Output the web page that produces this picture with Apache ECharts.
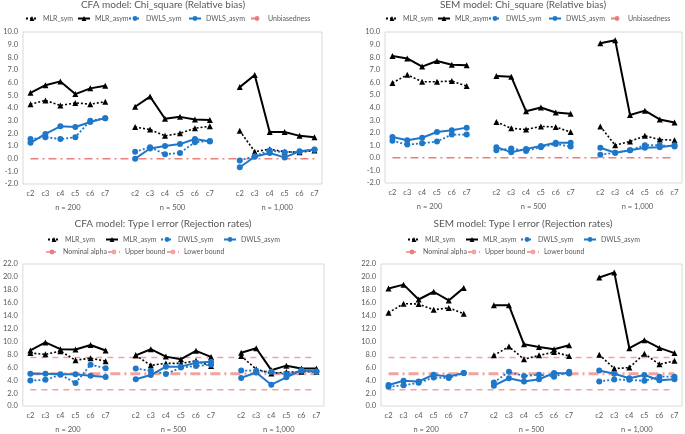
<!DOCTYPE html>
<html>
<head>
<meta charset="utf-8">
<script src="https://cdn.jsdelivr.net/npm/echarts@6/dist/echarts.min.js"></script>
<style>html,body{margin:0;padding:0;background:#fff;}#c{width:685px;height:434px;}</style>
</head>
<body>
<div id="c"></div>
<script>
// ---- Data ----
const categories = ['c2','c3','c4','c5','c6','c7'];
const groupLabels = ['n = 200','n = 500','n = 1,000'];
const panelTitles = ['CFA model: Chi_square (Relative bias)','SEM model: Chi_square (Relative bias)',
                     'CFA model: Type I error (Rejection rates)','SEM model: Type I error (Rejection rates)'];
const seriesNames = ['MLR_sym','MLR_asym','DWLS_sym','DWLS_asym'];
const refNamesBias = ['Unbiasedness'];
const refNamesRate = ['Nominal alpha','Upper bound','Lower bound'];

// CFA chi-square relative bias (n=200 | n=500 | n=1,000)
const cfaChiMLRsym   = [4.3,4.6,4.2,4.4,4.3,4.5,   2.5,2.3,1.8,2.0,2.4,2.55,  2.2,0.55,0.75,0.55,0.5,0.65];
const cfaChiMLRasym  = [5.2,5.8,6.1,5.1,5.55,5.75, 4.1,4.9,3.15,3.3,3.1,3.05, 5.65,6.6,2.1,2.1,1.8,1.7];
const cfaChiDWLSsym  = [1.55,1.7,1.55,1.7,3.0,3.2, 0.55,0.9,0.35,0.45,1.3,1.4, -0.15,0.2,0.65,0.5,0.55,0.7];
const cfaChiDWLSasym = [1.25,1.95,2.55,2.5,2.9,3.2, 0.0,0.8,1.0,1.15,1.55,1.35, -0.68,0.15,0.45,0.1,0.58,0.72];

// SEM chi-square relative bias
const semChiMLRsym   = [5.95,6.6,6.05,6.05,6.1,5.7, 2.85,2.35,2.25,2.5,2.45,2.05, 2.5,1.0,1.3,1.75,1.45,1.4];
const semChiMLRasym  = [8.1,7.9,7.25,7.7,7.4,7.35,  6.5,6.45,3.7,4.0,3.6,3.5,     9.1,9.35,3.4,3.75,3.05,2.8];
const semChiDWLSsym  = [1.35,1.05,1.15,1.3,1.85,1.85, 0.6,0.75,0.55,0.85,1.1,0.9, 0.25,0.4,0.6,1.0,1.0,0.9];
const semChiDWLSasym = [1.65,1.4,1.6,2.05,2.2,2.4,  0.85,0.45,0.7,0.95,1.2,1.2,   0.8,0.4,0.6,0.8,0.85,1.0];

// CFA Type I error rejection rates
const cfaT1MLRsym   = [8.2,8.0,8.5,7.1,7.4,6.95,  7.85,6.3,6.6,6.6,7.0,6.2,   7.75,5.7,5.05,5.25,5.3,5.3];
const cfaT1MLRasym  = [8.6,9.85,8.8,8.75,9.45,8.6, 7.85,8.8,7.65,7.25,8.55,7.6, 8.25,8.95,5.55,6.25,5.8,5.8];
const cfaT1DWLSsym  = [3.95,4.05,4.85,3.55,6.4,5.85, 5.8,5.45,4.95,5.95,6.2,6.4, 5.5,5.45,5.3,4.9,5.45,5.3];
const cfaT1DWLSasym = [5.0,5.0,4.9,4.9,4.7,4.5,   4.15,4.8,6.1,6.1,6.7,6.85, 4.35,5.2,3.3,4.45,5.55,5.35];

// SEM Type I error rejection rates
const semT1MLRsym   = [14.45,15.85,15.8,14.9,15.2,14.3, 7.85,9.2,7.25,7.85,8.35,7.75, 7.95,5.8,5.95,8.1,6.45,7.0];
const semT1MLRasym  = [18.2,18.8,16.5,17.7,16.35,18.3, 15.6,15.6,9.55,9.15,8.8,9.4,  19.9,20.7,8.95,10.2,9.0,8.2];
const semT1DWLSsym  = [3.0,3.2,3.6,4.4,4.35,5.1,  3.65,5.3,4.65,4.85,4.55,5.3, 3.8,4.1,4.05,3.9,4.55,4.55];
const semT1DWLSasym = [3.25,3.9,3.8,4.85,4.55,5.1, 3.15,4.3,3.8,4.15,5.1,5.05, 5.5,5.0,4.3,4.8,4.0,4.15];

// Reference levels
const unbiasedness = 0;
const nominalAlpha = 5.0;
const upperBound = 7.5;
const lowerBound = 2.5;

// ---- Build ----
const xCats = [].concat(categories, [''], categories, [''], categories);
function gapped(arr){ // blank category between sample-size groups
  return [].concat(arr.slice(0,6), ['-'], arr.slice(6,12), ['-'], arr.slice(12,18));
}
function flat(v){ return xCats.map(()=>v); }

const FONT = 'Lato';
const TXT = '#595959';
const BLUE = '#1f77c9';
const RED = '#e97f7d';
const RED2 = '#f2a3a1';

const grids = [
  {left:23, top:32, width:299, height:152},
  {left:385, top:32, width:297, height:151},
  {left:21, top:264, width:303, height:143},
  {left:381, top:264, width:302, height:143}
];
const yRanges = [[-2,10,1],[-2,10,1],[0,22,2],[0,22,2]];
const panelData = [
  [cfaChiMLRsym,cfaChiMLRasym,cfaChiDWLSsym,cfaChiDWLSasym],
  [semChiMLRsym,semChiMLRasym,semChiDWLSsym,semChiDWLSasym],
  [cfaT1MLRsym,cfaT1MLRasym,cfaT1DWLSsym,cfaT1DWLSasym],
  [semT1MLRsym,semT1MLRasym,semT1DWLSsym,semT1DWLSasym]
];
const seriesStyle = [
  {color:'#000', type:[2,2], width:1.6, symbol:'triangle'},
  {color:'#000', type:'solid', width:2, symbol:'triangle'},
  {color:BLUE, type:[2,2], width:1.8, symbol:'circle'},
  {color:BLUE, type:'solid', width:2, symbol:'circle'}
];

const option = {
  animation:false,
  textStyle:{fontFamily:FONT},
  title:[], grid:[], xAxis:[], yAxis:[], series:[], legend:[]
};
const titleCenters = [[163,0],[523,0],[163,219],[523,219]];
panelTitles.forEach((t,i)=>{
  option.title.push({text:t, left:titleCenters[i][0], top:titleCenters[i][1], textAlign:'center',
    textStyle:{fontSize:10, fontWeight:'normal', color:TXT, fontFamily:FONT}, padding:0});
});

grids.forEach((g,i)=>{
  option.grid.push(Object.assign({show:true, borderColor:'#d9d9d9', borderWidth:1, containLabel:false}, g));
  option.xAxis.push({type:'category', gridIndex:i, data:xCats, boundaryGap:true,
    axisLine:{show:false}, axisTick:{show:false}, splitLine:{show:false},
    axisLabel:{interval:0, fontSize:7.5, color:TXT, margin:6, fontFamily:FONT}});
  option.xAxis.push({type:'value', gridIndex:i, min:0, max:20, interval:1, position:'bottom',
    axisLine:{show:false}, axisTick:{show:false}, splitLine:{show:false},
    axisLabel:{fontSize:7.5, color:TXT, margin:20, fontFamily:FONT,
      formatter:v=> v===3?groupLabels[0]:(v===10?groupLabels[1]:(v===17?groupLabels[2]:''))}});
  const yr = yRanges[i];
  option.yAxis.push({type:'value', gridIndex:i, min:yr[0], max:yr[1], interval:yr[2],
    axisLine:{show:false}, axisTick:{show:false}, splitLine:{show:false},
    axisLabel:{fontSize:7.5, color:TXT, margin:5, fontFamily:FONT, formatter:v=>v.toFixed(1)}});

  if(i<2){
    option.series.push({name:refNamesBias[0], type:'line', xAxisIndex:2*i, yAxisIndex:i, data:flat(unbiasedness),
      symbol:'none', lineStyle:{color:RED, width:1.5, type:[8,4,2,4]}, itemStyle:{color:RED}, z:1});
  } else {
    option.series.push({name:refNamesRate[0], type:'line', xAxisIndex:2*i, yAxisIndex:i, data:flat(nominalAlpha),
      symbol:'none', lineStyle:{color:RED2, width:3, type:[10,4,2,4]}, itemStyle:{color:RED}, z:1});
    option.series.push({name:refNamesRate[1], type:'line', xAxisIndex:2*i, yAxisIndex:i, data:flat(upperBound),
      symbol:'none', lineStyle:{color:RED2, width:1.5, type:[6,5]}, itemStyle:{color:RED2}, z:1});
    option.series.push({name:refNamesRate[2], type:'line', xAxisIndex:2*i, yAxisIndex:i, data:flat(lowerBound),
      symbol:'none', lineStyle:{color:RED2, width:1.5, type:[6,5]}, itemStyle:{color:RED2}, z:1});
  }
  panelData[i].forEach((arr,k)=>{
    const s = seriesStyle[k];
    option.series.push({name:seriesNames[k], type:'line', xAxisIndex:2*i, yAxisIndex:i, data:gapped(arr),
      connectNulls:false, symbol:s.symbol, symbolSize:6,
      lineStyle:{color:s.color, width:s.width, type:s.type}, itemStyle:{color:s.color}, z:3+k});
  });
});

// legend items placed individually (Excel-like spacing)
const legBase = {orient:'horizontal', itemWidth:12, itemHeight:6, itemGap:0, padding:0,
  textStyle:{fontSize:7, color:TXT, fontFamily:FONT}, selectedMode:false};
function addLegend(names, xs, yc){
  names.forEach((n,j)=>{
    option.legend.push(Object.assign({}, legBase, {left:xs[j], top:yc-4, data:[n]}));
  });
}
const topLegX = [25,77,128,188,250];
const botLegX1 = [47,105,160,223];
const botLegX2 = [45,107,166];
addLegend(seriesNames.concat(refNamesBias), topLegX, 19);
addLegend(seriesNames.concat(refNamesBias), topLegX.map(x=>x+360), 19);
addLegend(seriesNames, botLegX1, 240);
addLegend(refNamesRate, botLegX2, 252.5);
addLegend(seriesNames, botLegX1.map(x=>x+360), 240);
addLegend(refNamesRate, botLegX2.map(x=>x+360), 252.5);

const chart = echarts.init(document.getElementById('c'), null, {renderer:'canvas'});
chart.setOption(option);
</script>
</body>
</html>
